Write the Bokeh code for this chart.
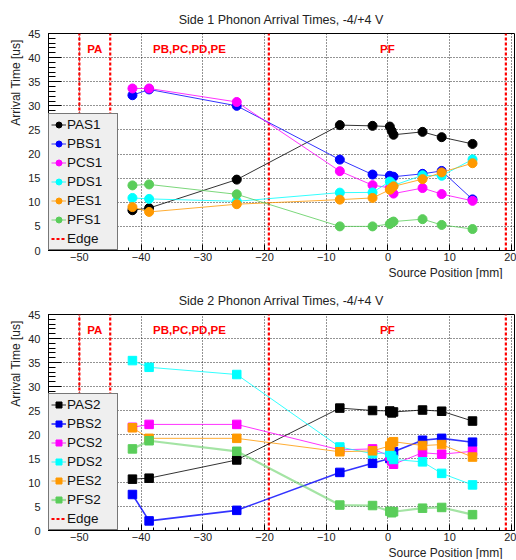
from bokeh.plotting import figure
from bokeh.models import Range1d, FixedTicker, Legend, LegendItem, ColumnDataSource, Title
from bokeh.layouts import column
from bokeh.embed import file_html
from bokeh.resources import INLINE
from bokeh.core.properties import value

# ---------------- data ----------------
x_pos = [-41.4, -38.7, -24.5, -7.8, -2.5, 0.3, 0.6, 0.9, 5.6, 8.7, 13.7]

pas1 = [8.35, 8.8, 14.7, 26.0, 25.85, 25.7, 24.8, 24.0, 24.6, 23.5, 22.1]
pbs1 = [32.2, 33.4, 30.0, 18.85, 15.75, 15.5, 15.2, 15.3, 15.9, 16.5, 10.6]
pcs1 = [33.6, 33.6, 30.8, 16.45, 13.55, 13.0, 12.4, 11.8, 12.95, 11.7, 10.3]
pds1 = [10.9, 10.7, 10.2, 12.0, 12.05, 14.3, 13.9, 13.5, 15.6, 15.5, 18.9]
pes1 = [9.0, 8.0, 9.6, 10.55, 10.9, 12.6, 13.0, 13.3, 14.8, 16.2, 18.1]
pfs1 = [13.5, 13.7, 11.65, 5.0, 5.0, 5.5, 5.8, 6.0, 6.5, 5.3, 4.45]

pas2 = [10.7, 10.9, 14.7, 25.5, 25.0, 24.9, 24.5, 24.7, 25.1, 24.85, 22.8]
pbs2 = [7.5, 2.0, 4.2, 12.1, 14.0, 15.0, 15.8, 16.4, 18.8, 19.2, 18.4]
pcs2 = [21.5, 22.1, 22.1, 16.8, 17.0, 15.5, 14.5, 13.8, 16.2, 15.9, 16.5]
pds2 = [35.4, 34.0, 32.5, 17.4, 16.0, 16.2, 15.5, 14.8, 14.3, 11.9, 9.5]
pes2 = [21.4, 19.2, 19.2, 16.4, 16.6, 17.6, 18.3, 18.5, 17.7, 17.9, 15.3]
pfs2 = [17.0, 18.7, 16.5, 5.3, 5.2, 4.0, 3.7, 3.9, 4.65, 4.8, 3.3]

names1 = ["PAS1", "PBS1", "PCS1", "PDS1", "PES1", "PFS1"]
names2 = ["PAS2", "PBS2", "PCS2", "PDS2", "PES2", "PFS2"]

edges = [-50, -45, -19.3, 19.1]
region_names = ["PA", "PB,PC,PD,PE", "PF"]

x_ticks = [-50, -40, -30, -20, -10, 0, 10, 20]
x_minor = list(range(-54, 21, 2))
y_ticks = [0, 5, 10, 15, 20, 25, 30, 35, 40, 45]
y_minor = list(range(0, 46, 1))

titles = ["Side 1 Phonon Arrival Times, -4/+4 V", "Side 2 Phonon Arrival Times, -4/+4 V"]
x_label = "Source Position [mm]"
y_label = "Arrival Time [us]"

# ---------------- style ----------------
colors = ["#000000", "#0000ff", "#ff00ff", "#00ffff", "#ff9900", "#5acd5a"]
FONT = "Liberation Sans"
X_LO, X_HI = -55, 20.5
Y_LO, Y_HI = 0, 45


def make_fig(title, series, names, marker, msize, top_border, frame_h, line_widths, line_alphas):
    p = figure(output_backend="svg", toolbar_location=None,
               frame_width=466, frame_height=frame_h,
               x_range=Range1d(X_LO, X_HI), y_range=Range1d(Y_LO, Y_HI),
               min_border_left=48, min_border_right=2,
               min_border_top=top_border, min_border_bottom=29)
    p.title.text = title
    p.title.align = "center"
    p.title.text_font = FONT
    p.title.text_font_size = "12.5px"
    p.title.text_font_style = "normal"
    p.title.text_color = "#222222"
    p.title.standoff = 14

    p.outline_line_color = "black"
    p.outline_line_width = 1
    p.background_fill_color = "white"
    p.border_fill_color = "white"

    # grid
    for g in (p.xgrid, p.ygrid):
        g.grid_line_color = "black"
        g.grid_line_dash = "1 2"
        g.grid_line_width = 1
        g.grid_line_alpha = 0.85
    p.xgrid.ticker = FixedTicker(ticks=x_ticks)
    p.ygrid.ticker = FixedTicker(ticks=y_ticks)

    # axes
    p.xaxis.ticker = FixedTicker(ticks=x_ticks, minor_ticks=x_minor)
    p.yaxis.ticker = FixedTicker(ticks=y_ticks, minor_ticks=y_minor)
    for ax in (p.xaxis, p.yaxis):
        ax.major_tick_out = 0
        ax.minor_tick_out = 0
        ax.major_tick_line_color = "black"
        ax.minor_tick_line_color = "black"
        ax.axis_line_color = "black"
        ax.major_label_text_font = FONT
        ax.major_label_text_font_size = "11px"
        ax.major_label_text_color = "#222222"
    p.xaxis.major_tick_in = 6
    p.xaxis.minor_tick_in = 3
    p.yaxis.major_tick_in = 13
    p.yaxis.minor_tick_in = 7
    p.xaxis.major_label_standoff = 2
    p.yaxis.major_label_standoff = 8

    # axis titles (right/top aligned, ROOT style)
    xt = Title(text=x_label, align="right", offset=12, standoff=0,
               text_font=FONT, text_font_size="12px", text_font_style="normal",
               text_color="#222222")
    p.add_layout(xt, "below")
    yt = Title(text=y_label, align="right", offset=6, standoff=6,
               text_font=FONT, text_font_size="12px", text_font_style="normal",
               text_color="#222222")
    p.add_layout(yt, "left")

    # edges
    seg_src = ColumnDataSource(dict(x0=edges, x1=edges,
                                    y0=[Y_LO] * len(edges), y1=[Y_HI] * len(edges)))
    seg = p.segment(x0="x0", y0="y0", x1="x1", y1="y1", source=seg_src,
                    line_color="#ff0000", line_width=2.2, line_dash="3 2")

    # region labels
    rx = [(edges[i] + edges[i + 1]) / 2 for i in range(len(region_names))]
    p.text(x=rx, y=[Y_HI - 3.2] * len(rx), text=region_names,
           text_font=value(FONT), text_font_size="11.5px", text_font_style="bold",
           text_color="#ff0000", text_align="center", text_baseline="middle")

    items = []
    for s, name, c, lw, la in zip(series, names, colors, line_widths, line_alphas):
        src = ColumnDataSource(dict(x=x_pos, y=s))
        lr = p.line("x", "y", source=src, line_color=c, line_width=lw, line_alpha=la)
        sr = p.scatter("x", "y", source=src, marker=marker, size=msize,
                       fill_color=c, line_color=c)
        items.append(LegendItem(label=name, renderers=[lr, sr]))
    items.append(LegendItem(label="Edge", renderers=[seg]))

    leg = Legend(items=items, location="bottom_left")
    leg.margin = 0
    leg.padding = 2
    leg.spacing = 2
    leg.glyph_width = 15
    leg.glyph_height = 17
    leg.label_height = 17
    leg.label_width = 48
    leg.label_standoff = 1
    leg.label_text_font = FONT
    leg.label_text_font_size = "13.5px"
    leg.label_text_color = "#111111"
    leg.background_fill_color = "#efefef"
    leg.background_fill_alpha = 1
    leg.border_line_color = "black"
    leg.border_line_width = 1
    p.add_layout(leg)
    return p


p1 = make_fig(titles[0], [pas1, pbs1, pcs1, pds1, pes1, pfs1], names1, "circle", 9,
              33, 217, [1, 1, 1, 1, 1, 1], [0.8, 0.8, 0.8, 0.8, 0.8, 0.8])
p2 = make_fig(titles[1], [pas2, pbs2, pcs2, pds2, pes2, pfs2], names2, "square", 8.5,
              35, 216, [1, 1.6, 1, 1, 1, 2.2], [0.8, 0.8, 0.8, 0.8, 0.8, 0.55])

layout = column(p1, p2, spacing=0)
open("out.html", "w").write(file_html(layout, INLINE))
